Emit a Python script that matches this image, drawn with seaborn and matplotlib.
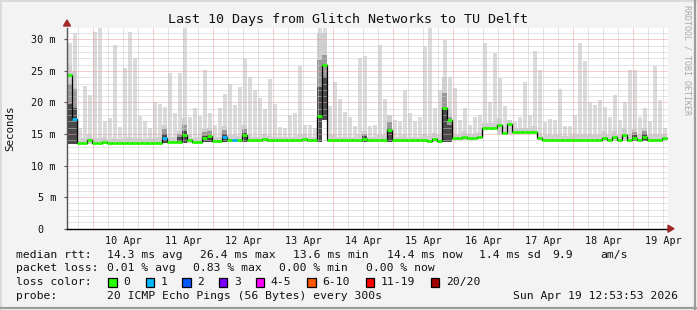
import numpy as np
import matplotlib
matplotlib.use("Agg")
import matplotlib.pyplot as plt
import seaborn as sns
from matplotlib.patches import Rectangle, Polygon
from matplotlib.lines import Line2D

# ---------------- data (2-hour bins, 10 days, values in ms) ----------------
median_ms = [
    24.4, 17.4, 13.6, 13.6, 14.1, 13.6, 13.6, 13.8, 13.6, 13.6,
    13.6, 13.6, 13.6, 13.6, 13.6, 13.6, 13.6, 13.6, 13.6, 14.3,
    13.75, 13.75, 13.75, 14.9, 14.0, 13.75, 13.75, 14.3, 14.7, 13.9,
    13.9, 14.6, 14.0, 14.1, 14.0, 14.8, 14.0, 14.0, 14.0, 14.2,
    14.0, 14.0, 14.0, 14.0, 14.0, 14.0, 14.0, 14.2, 14.0, 14.0,
    17.8, 26.0, 14.0, 14.0, 14.0, 14.0, 14.0, 14.0, 14.0, 14.2,
    14.0, 14.0, 14.0, 14.0, 15.6, 14.0, 14.0, 14.0, 14.0, 14.0,
    14.0, 14.1, 13.9, 14.2, 13.9, 19.2, 17.2, 14.3, 14.3, 14.5,
    14.3, 14.3, 14.6, 16.0, 16.0, 16.0, 16.4, 15.2, 16.6, 15.3,
    15.3, 15.3, 15.3, 15.3, 14.4, 14.1, 14.1, 14.1, 14.1, 14.1,
    14.1, 14.1, 14.1, 14.1, 14.1, 14.1, 14.1, 14.3, 14.1, 14.5,
    14.1, 14.9, 14.1, 14.3, 14.1, 14.6, 14.1, 14.1, 14.1, 14.4,
]

smoke_min = [
    13.4, 13.4, 13.4, 13.4, 13.4, 13.4, 13.4, 13.4, 13.4, 13.4,
    13.4, 13.4, 13.4, 13.4, 13.4, 13.4, 13.4, 13.4, 13.4, 13.5,
    13.5, 13.5, 13.5, 13.5, 13.5, 13.5, 13.5, 13.7, 13.7, 13.7,
    13.7, 13.8, 13.8, 13.8, 13.8, 13.8, 13.8, 13.8, 13.8, 13.8,
    13.8, 13.8, 13.8, 13.8, 13.8, 13.8, 13.8, 13.8, 13.8, 13.8,
    13.8, 17.2, 13.8, 13.8, 13.8, 13.8, 13.8, 13.8, 13.8, 13.8,
    13.8, 13.8, 13.8, 13.8, 13.8, 13.8, 13.8, 13.8, 13.8, 13.8,
    13.8, 13.8, 13.7, 13.8, 13.7, 13.8, 13.8, 14.1, 14.1, 14.1,
    14.1, 14.1, 14.4, 15.8, 15.8, 15.8, 15.0, 15.0, 15.0, 15.1,
    15.1, 15.1, 15.1, 15.1, 14.2, 13.9, 13.9, 13.9, 13.9, 13.9,
    13.9, 13.9, 13.9, 13.9, 13.9, 13.9, 13.9, 13.9, 13.9, 13.9,
    13.9, 13.9, 13.9, 13.9, 13.9, 13.9, 13.9, 13.9, 13.9, 13.9,
]

smoke_dense = [
    26.0, 25.0, 14.2, 14.4, 14.8, 14.3, 14.4, 14.6, 14.2, 14.3,
    14.2, 14.4, 14.5, 14.4, 14.3, 14.2, 14.3, 14.4, 14.5, 16.5,
    14.6, 14.5, 15.5, 17.5, 14.8, 14.4, 14.5, 15.8, 16.0, 14.5,
    14.6, 16.2, 14.8, 14.9, 14.7, 16.5, 14.8, 14.6, 14.6, 15.0,
    14.7, 14.6, 14.5, 14.6, 14.6, 14.6, 14.8, 15.0, 14.6, 14.5,
    31.0, 31.0, 15.0, 14.8, 14.6, 14.6, 14.5, 14.5, 14.8, 15.5,
    14.6, 14.6, 14.8, 14.8, 18.0, 14.6, 14.5, 14.8, 14.6, 14.6,
    14.6, 15.0, 14.7, 15.2, 14.8, 24.0, 19.0, 15.0, 14.9, 15.5,
    15.0, 15.0, 15.4, 16.8, 16.8, 16.8, 17.5, 16.2, 17.3, 16.0,
    16.0, 16.0, 16.0, 16.2, 15.2, 14.7, 14.8, 14.8, 14.9, 14.7,
    14.7, 14.8, 14.9, 15.0, 14.8, 14.9, 14.8, 15.5, 14.8, 15.5,
    14.8, 16.0, 14.9, 15.8, 15.0, 16.0, 14.8, 15.0, 14.9, 15.0,
]

smoke_max = [
    29.5, 31.0, 16.0, 22.6, 21.2, 31.2, 31.8, 17.1, 17.5, 29.1,
    16.1, 25.4, 31.2, 27.0, 17.8, 17.0, 16.0, 20.0, 19.8, 19.3,
    24.7, 18.3, 24.6, 32.0, 17.7, 19.1, 17.9, 25.2, 18.3, 16.5,
    19.1, 21.3, 23.0, 19.6, 22.5, 27.0, 24.0, 21.9, 20.7, 19.0,
    23.7, 19.7, 16.1, 16.0, 18.0, 18.3, 25.7, 16.5, 16.5, 16.0,
    32.0, 32.0, 19.4, 23.3, 20.6, 18.5, 17.7, 16.2, 27.0, 27.3,
    16.3, 16.5, 29.1, 20.6, 18.0, 17.2, 17.0, 22.0, 18.3, 17.0,
    17.7, 28.9, 31.8, 19.2, 22.0, 29.9, 24.1, 22.3, 17.2, 19.2,
    16.5, 17.7, 18.0, 29.4, 20.0, 27.8, 23.8, 19.4, 17.2, 16.9,
    17.7, 23.3, 18.0, 28.1, 25.2, 16.9, 17.4, 17.2, 22.2, 16.2,
    16.2, 18.0, 29.4, 26.5, 20.0, 19.6, 20.4, 19.3, 17.7, 21.2,
    17.2, 20.1, 25.2, 25.2, 17.7, 19.1, 17.0, 25.7, 20.4, 16.0,
]

loss_class = [0] * 120
for _i in (1, 19, 31, 33):
    loss_class[_i] = 1

loss_labels = ["0", "1", "2", "3", "4-5", "6-10", "11-19", "20/20"]
loss_colors = ["#26ff00", "#00b8ff", "#0059ff", "#7e00ff",
               "#ff00ff", "#ff5500", "#ff0000", "#a10000"]

day_labels = ["10 Apr", "11 Apr", "12 Apr", "13 Apr", "14 Apr",
              "15 Apr", "16 Apr", "17 Apr", "18 Apr", "19 Apr"]
first_midnight_h = 10.5
bin_hours = 2.0
span_hours = 240.4

ytick_vals = [0, 5, 10, 15, 20, 25, 30]
ytick_labels = ["0  ", "5 m", "10 m", "15 m", "20 m", "25 m", "30 m"]

title = "Last 10 Days from Glitch Networks to TU Delft"
stats_rows = [
    ("median rtt:", [("14.3 ms avg", 107.3), ("26.4 ms max", 200.0), ("13.6 ms min", 293.3),
                     ("14.4 ms now", 386.7), ("1.4 ms sd", 479.3), ("9.9", 552.0), ("am/s", 600.0)]),
    ("packet loss:", [("0.01 % avg", 107.3), ("0.83 % max", 193.3), ("0.00 % min", 279.3),
                      ("0.00 % now", 365.7)]),
]
probe_text = "20 ICMP Echo Pings (56 Bytes) every 300s"
stamp_text = "Sun Apr 19 12:53:53 2026"

# ---------------- figure ----------------
sns.set_theme(style="white")
plt.rcParams["font.family"] = ["DejaVu Sans Mono"]
W, H = 697, 310
BG = "#f3f3f3"
TXT = "#111111"

fig = plt.figure(figsize=(W / 100, H / 100), dpi=100, facecolor=BG)
ax_left, ax_right, ax_top, ax_bot = 67, 668, 28, 228.7
ax = fig.add_axes([ax_left / W, (H - ax_bot) / H, (ax_right - ax_left) / W, (ax_bot - ax_top) / H])
ax.set_facecolor("white")

med = np.array(median_ms)
lo = np.array(smoke_min)
dense = np.array(smoke_dense)
hi = np.array(smoke_max)
x0 = np.arange(len(med)) * bin_hours

# smoke layers: light-grey bars to the max ping, dense band near the median,
# darker core only where the dense band is tall
ax.bar(x0 + 0.15 * bin_hours, hi - lo, bottom=lo, width=0.85 * bin_hours, align="edge",
       color="#dbdbdb", linewidth=0, antialiased=False, zorder=1)
ax.bar(x0, dense - lo, bottom=lo, width=bin_hours, align="edge", color="#cfcfcf",
       linewidth=0, antialiased=False, zorder=1.1)
tall = (dense - med) > 1.2
ax.bar(x0[tall], (dense - lo)[tall] * 0.75, bottom=lo[tall], width=bin_hours, align="edge",
       color="#9a9a9a", linewidth=0, antialiased=False, zorder=1.2)
ax.bar(x0[tall], (dense - lo)[tall] * 0.5, bottom=lo[tall], width=bin_hours, align="edge",
       color="#4a4a4a", linewidth=0, antialiased=False, zorder=1.3)

# grid
ymax = 31.8
minor_y = [v for v in range(1, 32) if v % 5 != 0]
major_y = [v for v in range(5, 31, 5)]
ax.hlines(minor_y, 0, span_hours, colors="#c9c9c9", lw=0.72, linestyles=(0, (1, 1)), zorder=2)
ax.hlines(major_y, 0, span_hours, colors="#eaa0a0", lw=0.72, linestyles=(0, (1, 1)), zorder=2.1)
six_h = np.arange(first_midnight_h - 6, span_hours, 6.0)
minor_x = [h for h in six_h if abs(((h - first_midnight_h) / 24) - round((h - first_midnight_h) / 24)) > 1e-6]
major_x = [first_midnight_h + 24 * k for k in range(len(day_labels))]
ax.vlines(minor_x, 0, ymax, colors="#c9c9c9", lw=0.72, linestyles=(0, (1, 1)), zorder=2)
ax.vlines(major_x, 0, ymax, colors="#eaa0a0", lw=0.72, linestyles=(0, (1, 1)), zorder=2.1)

# median: black step line + loss-coloured segments
x_edges = np.append(x0, x0[-1] + bin_hours)
med_ext = np.append(med, med[-1])
sns.lineplot(x=x_edges, y=med_ext, drawstyle="steps-post", color="black", lw=0.9,
             ax=ax, zorder=4, estimator=None)
ax.hlines(med, x0, x0 + bin_hours, colors=[loss_colors[c] for c in loss_class],
          lw=2.0, zorder=5)

ax.set_xlim(0, span_hours)
ax.set_ylim(0, ymax)

ax.set_yticks(ytick_vals, ytick_labels)
noon_pos = [first_midnight_h + 12 + 24 * k for k in range(len(day_labels))]
ax.set_xticks(noon_pos, day_labels)
ax.tick_params(axis="y", length=2.5, width=0.8, color="#555555", pad=5.5,
               labelsize=7.3, labelcolor=TXT, left=True)
ax.tick_params(axis="x", length=0, pad=5.0, labelsize=7.3, labelcolor=TXT)
ax.set_xlabel("")
ax.set_ylabel("")

for s in ("top", "right"):
    ax.spines[s].set_visible(False)
ax.spines["left"].set_color("#555555")
ax.spines["left"].set_linewidth(1.0)
ax.spines["bottom"].set_color("black")
ax.spines["bottom"].set_linewidth(1.0)
ax.spines["left"].set_zorder(6)
ax.spines["bottom"].set_zorder(6)

# arrows at the axis ends
arrow_c = "#a02828"
fig.add_artist(Polygon([[(ax_left - 3.5) / W, (H - 26) / H], [(ax_left + 3.5) / W, (H - 26) / H],
                        [ax_left / W, (H - 20) / H]], closed=True, color=arrow_c,
                       transform=fig.transFigure))
fig.add_artist(Polygon([[(ax_right) / W, (H - ax_bot + 3.5) / H], [(ax_right) / W, (H - ax_bot - 3.5) / H],
                        [(ax_right + 6) / W, (H - ax_bot) / H]], closed=True, color=arrow_c,
                       transform=fig.transFigure))

# texts
fig.text(0.5, 1 - 19 / H, title, ha="center", va="center", fontsize=9.6, color=TXT)
fig.text(10 / W, 1 - 128 / H, "Seconds", rotation=90, ha="center", va="center",
         fontsize=7.8, color=TXT)
fig.text(687.5 / W, 1 - 60 / H, "RRDTOOL / TOBI OETIKER", rotation=270, ha="center",
         va="center", fontsize=6.0, color="#a8a8a8")

FS = 8.2
row_y = [255, 268.3, 282, 296]
for (label, parts), yy in zip(stats_rows, row_y[:2]):
    fig.text(16 / W, 1 - yy / H, label, ha="left", va="center", fontsize=FS, color=TXT)
    for s, xx in parts:
        fig.text(xx / W, 1 - yy / H, s, ha="left", va="center", fontsize=FS, color=TXT)

fig.text(16 / W, 1 - row_y[2] / H, "loss color:", ha="left", va="center", fontsize=FS, color=TXT)
sq_x = [108.3, 145.7, 182.3, 219.0, 255.7, 307.3, 365.7, 430.7]
for lab, col, sx in zip(loss_labels, loss_colors, sq_x):
    fig.add_artist(Rectangle((sx / W, 1 - 286.5 / H), 8.3 / W, 8.6 / H, facecolor=col,
                             edgecolor="black", lw=0.9, transform=fig.transFigure))
    fig.text((sx + 15) / W, 1 - row_y[2] / H, lab, ha="left", va="center", fontsize=FS, color=TXT)

fig.text(16 / W, 1 - row_y[3] / H, "probe:", ha="left", va="center", fontsize=FS, color=TXT)
fig.text(107.3 / W, 1 - row_y[3] / H, probe_text, ha="left", va="center", fontsize=FS, color=TXT)
fig.text(513.3 / W, 1 - row_y[3] / H, stamp_text, ha="left", va="center", fontsize=FS, color=TXT)

# image frame
fig.add_artist(Line2D([0, 1], [1 - 1 / H, 1 - 1 / H], color="#dadada", lw=1.4, transform=fig.transFigure))
fig.add_artist(Line2D([1 / W, 1 / W], [0, 1], color="#dadada", lw=1.4, transform=fig.transFigure))
fig.add_artist(Line2D([0, 1], [2 / H, 2 / H], color="#9c9c9c", lw=1.6, transform=fig.transFigure))
fig.add_artist(Line2D([1 - 2.5 / W, 1 - 2.5 / W], [0, 1], color="#9c9c9c", lw=1.6, transform=fig.transFigure))

fig.savefig("out.png", dpi=100, facecolor=BG)
